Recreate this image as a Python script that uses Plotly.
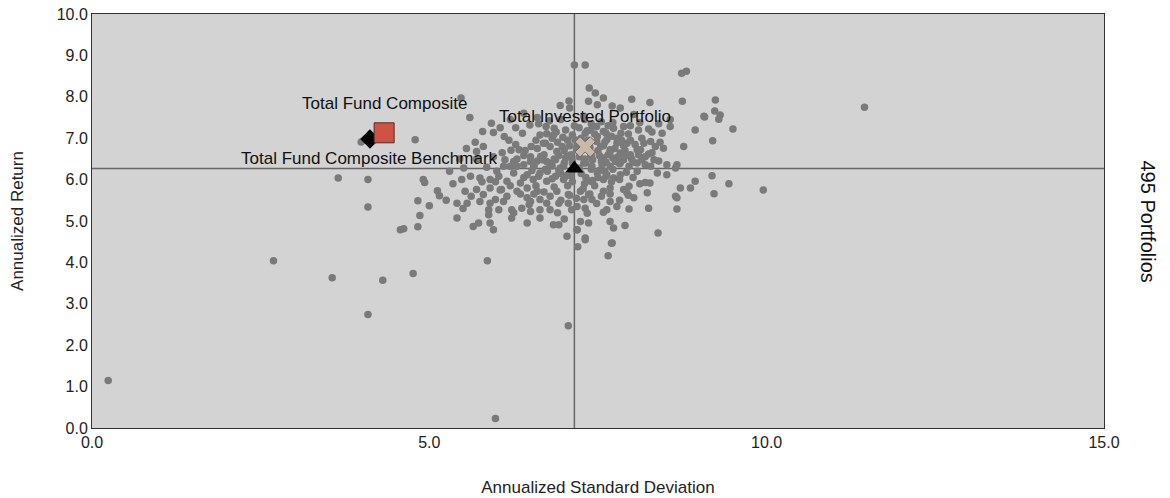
import plotly.graph_objects as go

# Universe of portfolios: (annualized std dev, annualized return)
universe_sd = [
    0.24, 2.69, 3.56, 3.65, 4.09, 4.09, 4.09, 4.31, 4.76, 3.99, 4.79, 4.91, 4.93, 4.83, 5.0, 4.86, 4.83, 4.57, 4.62, 5.12, 5.15,
    9.24, 9.23, 9.31, 9.08, 9.29, 9.5, 9.2, 11.45, 9.19, 9.44, 9.22, 9.95,
    5.86, 7.06, 5.98, 7.2, 7.7, 7.65, 7.31,
    7.15, 7.31, 8.74, 8.81, 7.37,
    5.47, 7.07, 6.94, 7.08, 5.92, 5.79, 5.95, 6.11, 6.38, 6.49, 6.73, 6.85, 6.64, 6.74, 6.82, 5.68, 5.8, 6.21, 6.33, 6.4,
    6.51, 6.69, 6.79, 6.89, 6.97, 7.04, 6.65, 6.74, 6.87, 7.12, 7.19, 6.12, 6.25, 6.5, 6.1, 6.3, 6.55, 6.82, 6.99, 5.7,
    7.46, 7.58, 8.0, 8.27, 8.75, 7.36, 7.49, 7.71, 7.83, 7.29, 8.03, 8.57, 9.07, 7.39, 7.58, 7.73, 7.88, 8.1, 8.25, 8.45,
    8.57, 8.94, 7.31, 7.49, 7.63, 7.78, 7.93, 8.28, 8.35, 8.47, 8.77, 7.54, 7.68, 7.83, 7.98, 8.13, 7.58, 7.76, 7.88, 8.08,
    8.33, 8.52, 8.67, 7.24, 7.39, 7.16,
    5.51, 5.61, 5.48, 5.75, 5.9, 6.03, 6.15, 6.25, 6.35, 6.45, 6.54, 6.64, 6.74, 6.87, 6.99, 6.2, 6.4, 6.79, 6.94, 5.53,
    5.7, 5.8, 5.9, 6.07, 6.15, 6.3, 6.45, 6.6, 6.64, 6.79, 6.89, 7.06, 5.41, 5.56, 5.75, 5.9, 5.98, 6.1, 6.5, 6.74,
    6.92, 7.06, 5.88, 6.03, 6.22, 6.37, 6.5, 6.64, 6.79, 5.88, 6.22, 6.64, 6.84, 6.92, 5.41, 5.65, 5.73, 5.9, 5.95, 7.04,
    7.11, 7.19,
    7.29, 7.41, 7.56, 7.68, 7.83, 7.96, 8.08, 8.2, 8.28, 8.38, 8.52, 8.65, 7.49, 7.63, 7.83, 7.39, 7.58, 7.73, 7.88, 7.96,
    7.93, 8.2, 8.27, 8.72, 8.87, 8.94, 7.58, 7.68, 8.23, 8.03, 8.65, 8.67, 7.24, 7.36, 7.29, 7.41, 7.68, 7.78, 7.19, 7.31,
    7.96, 8.25, 8.67, 7.34, 7.58, 7.63, 7.24, 7.36, 7.68, 7.73, 7.9, 7.19, 7.31, 7.71, 8.39,
    6.9, 7.0, 7.05, 7.1, 7.2, 7.25, 7.3, 7.35, 7.4, 7.45, 7.5, 7.55, 7.6, 7.65, 7.7, 7.75, 7.8, 7.85, 7.9, 7.95,
    8.0, 8.05, 8.1, 8.15, 8.2, 6.6, 6.7, 6.75, 6.85, 6.95, 7.0, 7.05, 7.1, 7.25, 7.3, 7.4, 7.45, 7.5, 7.6, 7.7,
    6.5, 6.45, 6.55, 6.6, 6.3, 6.2, 6.0, 6.05, 5.85, 5.7, 7.15, 7.3, 7.4, 7.55, 7.65, 6.95, 6.6, 6.4, 6.2, 5.6,
    5.55, 5.3, 5.35, 5.45, 5.25,
    6.62, 6.78, 6.88, 7.02, 7.12, 7.22, 7.34, 7.48, 7.62, 7.72, 7.84, 7.98, 8.12, 8.3, 8.4,
    6.58, 6.72, 6.84, 6.98, 7.08, 7.18, 7.28, 7.38, 7.48, 7.58, 7.68, 7.78, 7.88, 7.98, 8.08, 8.18, 8.3, 8.42,
    6.55, 6.68, 6.8, 6.92, 7.02, 7.12, 7.22, 7.32, 7.42, 7.52, 7.62, 7.72, 7.82, 7.92, 8.02, 8.15, 8.25, 8.4,
    6.4, 6.52, 6.62, 6.72, 6.82, 6.92, 7.02, 7.12, 7.22, 7.32, 7.42, 7.52, 7.62, 7.72, 7.82, 7.92, 8.02, 8.12,
    6.35, 6.48, 6.58, 6.7, 6.85, 6.95, 7.08, 7.18, 7.28, 7.38, 7.48, 7.55, 7.68, 7.82, 7.95,
    5.95, 6.08, 6.18, 6.28, 6.42, 6.05, 6.28, 5.98, 5.78, 5.62, 5.5, 6.25, 6.45, 6.9, 7.0,
]
universe_ret = [
    1.15, 4.04, 3.63, 6.04, 2.74, 5.34, 6.0, 3.57, 3.73, 6.91, 6.96, 6.0, 5.93, 5.49, 5.37, 5.13, 4.86, 4.79, 4.81, 5.73, 5.61,
    7.92, 7.66, 7.56, 7.51, 7.46, 7.22, 6.94, 7.75, 6.09, 5.9, 5.66, 5.75,
    4.04, 2.47, 0.23, 4.38, 4.46, 4.16, 4.55,
    8.77, 8.77, 8.57, 8.62, 8.21,
    7.97, 7.9, 7.79, 7.73, 7.36, 7.16, 7.14, 7.04, 7.12, 7.32, 7.28, 7.24, 7.08, 7.11, 7.0, 6.9, 6.8, 6.71, 6.72, 6.58,
    6.8, 6.88, 6.8, 6.68, 6.8, 6.56, 6.56, 6.44, 6.48, 6.4, 6.8, 6.48, 6.44, 6.44, 6.32, 6.32, 6.32, 6.33, 6.32, 6.68,
    8.09, 7.97, 7.94, 7.86, 7.89, 7.89, 7.81, 7.78, 7.73, 7.53, 7.57, 7.45, 7.53, 7.2, 7.16, 7.24, 7.28, 7.2, 7.22, 7.12,
    7.28, 7.2, 7.12, 7.04, 6.96, 7.0, 6.88, 6.92, 6.8, 6.76, 6.8, 6.8, 6.68, 6.64, 6.6, 6.72, 6.52, 6.44, 6.48, 6.4,
    6.48, 6.36, 6.36, 6.72, 6.56, 6.96,
    6.28, 6.08, 6.0, 6.04, 6.0, 6.08, 5.96, 6.16, 5.92, 6.12, 6.0, 6.16, 5.96, 6.08, 6.0, 6.32, 6.36, 6.36, 6.28, 5.72,
    5.76, 5.64, 5.8, 5.76, 5.6, 5.72, 5.56, 5.72, 5.52, 5.6, 5.72, 5.64, 5.43, 5.43, 5.47, 5.43, 5.52, 5.47, 5.47, 5.43,
    5.43, 5.43, 5.27, 5.27, 5.27, 5.31, 5.23, 5.27, 5.27, 5.15, 5.07, 5.07, 4.91, 4.91, 5.07, 4.87, 4.95, 4.95, 4.79, 4.63,
    5.27, 4.79,
    6.4, 6.32, 6.36, 6.32, 6.4, 6.32, 6.2, 6.36, 6.32, 6.16, 6.12, 6.28, 6.16, 6.12, 6.12, 5.96, 6.0, 6.04, 5.76, 5.84,
    5.68, 5.93, 5.92, 5.8, 5.8, 5.96, 5.72, 5.8, 5.68, 5.56, 5.6, 5.56, 5.72, 5.64, 5.52, 5.52, 5.47, 5.35, 5.35, 5.31,
    5.29, 5.31, 5.29, 5.19, 5.21, 5.27, 4.99, 4.95, 4.99, 4.83, 4.89, 4.79, 4.59, 4.47, 4.71,
    6.9, 6.7, 6.95, 6.6, 6.85, 7.0, 6.5, 6.95, 6.6, 7.1, 6.7, 6.45, 6.9, 6.6, 7.05, 6.75, 6.55, 6.95, 6.7, 7.1,
    6.5, 6.85, 6.6, 7.0, 6.55, 6.75, 6.6, 6.2, 6.5, 6.15, 6.4, 5.85, 6.1, 6.15, 5.9, 6.25, 5.85, 6.05, 6.2, 5.95,
    6.55, 5.8, 5.65, 6.45, 6.5, 5.85, 6.2, 5.75, 6.3, 6.5, 7.3, 7.45, 7.35, 7.4, 7.3, 7.45, 7.5, 7.6, 7.45, 7.5,
    6.75, 6.2, 5.9, 6.5, 5.5,
    7.35, 7.42, 7.15, 7.2, 7.08, 7.25, 7.18, 7.28, 7.12, 7.38, 7.12, 7.3, 7.38, 7.15, 7.35,
    6.95, 6.88, 7.08, 7.02, 6.82, 6.72, 6.88, 6.78, 6.92, 6.82, 6.72, 6.88, 6.82, 6.95, 6.72, 6.88, 6.65, 6.9,
    6.35, 6.48, 6.38, 6.58, 6.52, 6.45, 6.55, 6.4, 6.48, 6.58, 6.42, 6.52, 6.38, 6.58, 6.42, 6.48, 6.62, 6.45,
    6.05, 6.22, 6.08, 6.25, 6.02, 6.22, 6.08, 5.95, 6.28, 6.05, 5.98, 6.22, 6.08, 6.25, 6.0, 6.18, 6.05, 5.9,
    5.65, 5.4, 5.85, 5.7, 5.82, 5.5, 5.62, 5.55, 5.78, 5.65, 5.42, 5.6, 5.65, 5.5, 5.62,
    6.55, 6.65, 6.95, 6.85, 6.7, 7.25, 7.25, 5.95, 5.95, 5.6, 5.3, 5.2, 4.95, 5.2, 5.05,
]

# Highlighted portfolios
fund_names = ["Total Fund Composite", "Total Fund Composite Benchmark", "Total Invested Portfolio"]
fund_sd = [4.33, 4.12, 7.31]
fund_ret = [7.13, 6.98, 6.79]

# Universe median
median_sd = 7.15
median_ret = 6.27

x_ticks = [0, 5, 10, 15]
x_tick_labels = ["0.0", "5.0", "10.0", "15.0"]
y_ticks = list(range(0, 11))
y_tick_labels = [f"{v:.1f}" for v in y_ticks]

FONT = "Liberation Sans, Arial, sans-serif"

fig = go.Figure()

fig.add_trace(go.Scatter(
    x=universe_sd, y=universe_ret, mode="markers",
    marker=dict(size=7.5, color="#7a7a7a", line=dict(width=0)),
    showlegend=False, hoverinfo="x+y",
))

# median crosshair
fig.add_shape(type="line", xref="x", yref="paper", x0=median_sd, x1=median_sd, y0=0, y1=1,
              line=dict(color="#666666", width=1.5), layer="below")
fig.add_shape(type="line", xref="paper", yref="y", x0=0, x1=1, y0=median_ret, y1=median_ret,
              line=dict(color="#666666", width=1.5), layer="below")

# median triangle
fig.add_trace(go.Scatter(
    x=[median_sd], y=[median_ret], mode="markers",
    marker=dict(symbol="triangle-up", size=16, color="black"),
    showlegend=False,
))

# Total Invested Portfolio (X)
fig.add_trace(go.Scatter(
    x=[fund_sd[2]], y=[fund_ret[2]], mode="markers",
    marker=dict(symbol="x", size=18, color="#c9b9a6", line=dict(color="#6f6a63", width=1)),
    showlegend=False,
))
# Benchmark (diamond)
fig.add_trace(go.Scatter(
    x=[fund_sd[1]], y=[fund_ret[1]], mode="markers",
    marker=dict(symbol="diamond", size=15, color="black"),
    showlegend=False,
))
# Total Fund Composite (square)
fig.add_trace(go.Scatter(
    x=[fund_sd[0]], y=[fund_ret[0]], mode="markers",
    marker=dict(symbol="square", size=20, color="#cd5444", line=dict(color="#5a2a22", width=1)),
    showlegend=False,
))

# labels
fig.add_annotation(x=fund_sd[0], y=fund_ret[0], text=fund_names[0], showarrow=False,
                   yshift=29, font=dict(size=17, color="#111111", family=FONT))
fig.add_annotation(x=fund_sd[1], y=fund_ret[1], text=fund_names[1], showarrow=False,
                   yshift=-19, font=dict(size=17, color="#111111", family=FONT))
fig.add_annotation(x=fund_sd[2], y=fund_ret[2], text=fund_names[2], showarrow=False,
                   yshift=30, font=dict(size=17, color="#111111", family=FONT))

fig.add_annotation(xref="paper", yref="paper", x=1.043, y=0.5, text="495 Portfolios",
                   textangle=90, showarrow=False, xanchor="center", yanchor="middle",
                   font=dict(size=20, color="#111111", family=FONT))

fig.update_layout(
    width=1170, height=498,
    margin=dict(l=92, r=66, t=14, b=70, autoexpand=False),
    paper_bgcolor="white", plot_bgcolor="#d3d3d3",
    font=dict(family=FONT, size=16, color="#222222"),
    xaxis=dict(range=[0, 15], tickvals=x_ticks, ticktext=x_tick_labels, showgrid=False, zeroline=False,
               showline=True, linecolor="#333333", linewidth=1, mirror=True, ticks="", automargin=False,
               title=dict(text="Annualized Standard Deviation", font=dict(size=17), standoff=30)),
    yaxis=dict(range=[0, 10], tickvals=y_ticks, ticktext=y_tick_labels, showgrid=False, zeroline=False,
               showline=True, linecolor="#333333", linewidth=1, mirror=True, ticks="", automargin=False,
               title=dict(text="Annualized Return", font=dict(size=17), standoff=28)),
)

fig.write_html("out.html", config={"displayModeBar": False},
               post_script="document.body.style.margin='0';document.body.style.overflow='hidden';")
